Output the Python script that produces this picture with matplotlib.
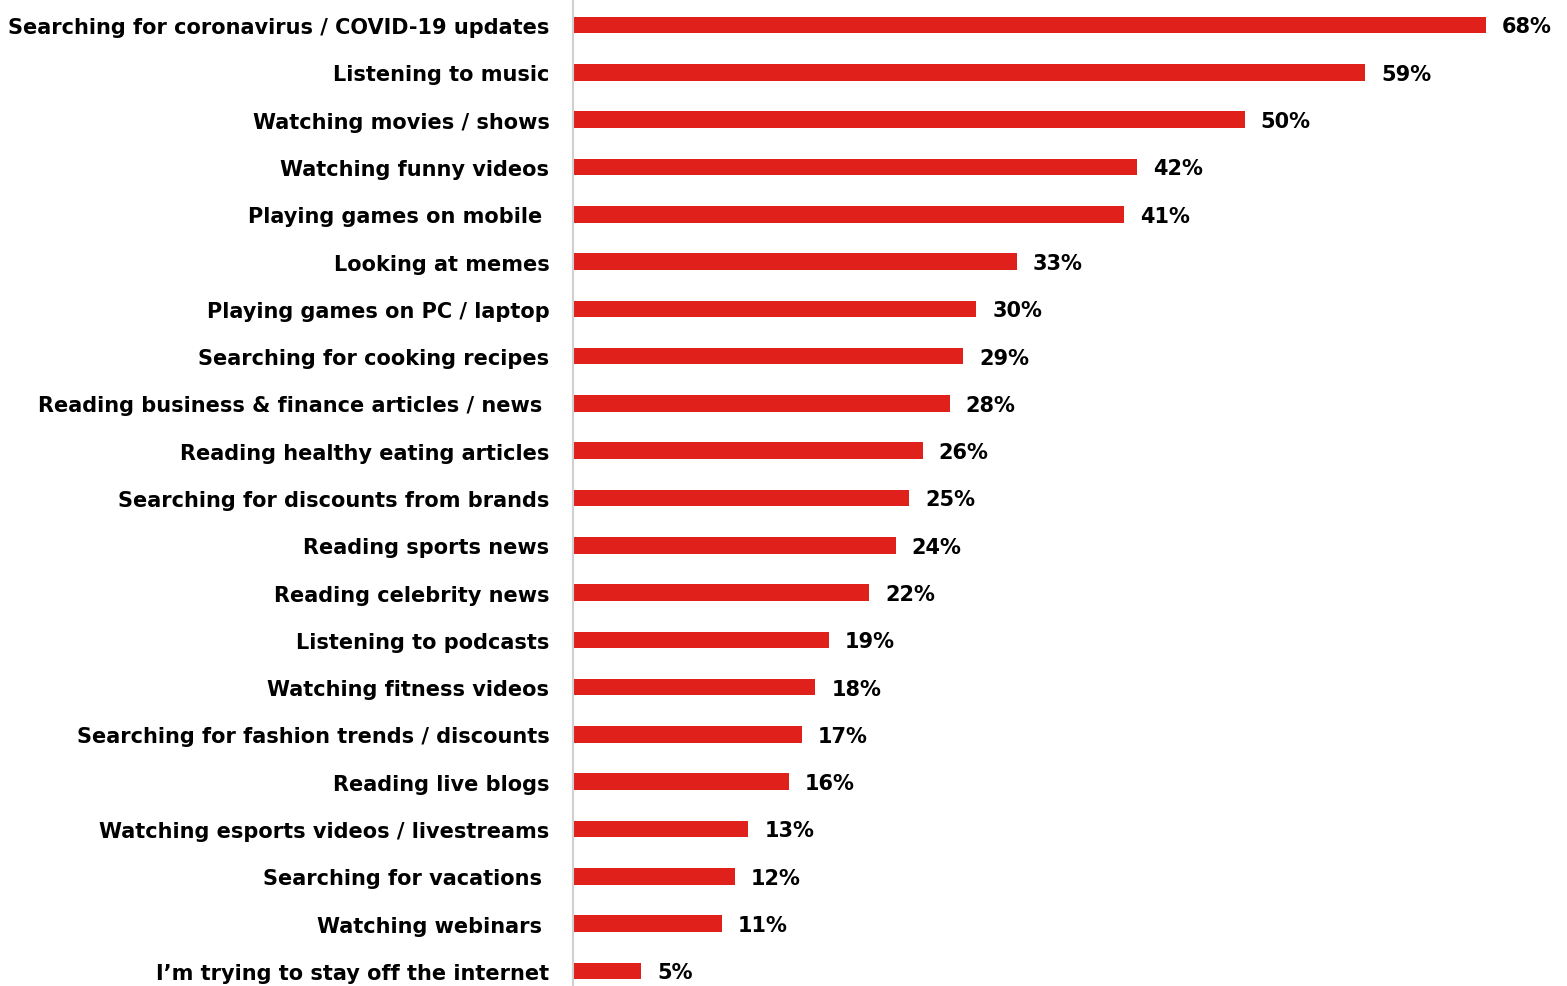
import matplotlib
matplotlib.use("Agg")
import matplotlib.pyplot as plt

activities = [
    "Searching for coronavirus / COVID-19 updates",
    "Listening to music",
    "Watching movies / shows",
    "Watching funny videos",
    "Playing games on mobile ",
    "Looking at memes",
    "Playing games on PC / laptop",
    "Searching for cooking recipes",
    "Reading business & finance articles / news ",
    "Reading healthy eating articles",
    "Searching for discounts from brands",
    "Reading sports news",
    "Reading celebrity news",
    "Listening to podcasts",
    "Watching fitness videos",
    "Searching for fashion trends / discounts",
    "Reading live blogs",
    "Watching esports videos / livestreams",
    "Searching for vacations ",
    "Watching webinars ",
    "I\u2019m trying to stay off the internet",
]
shares = [68, 59, 50, 42, 41, 33, 30, 29, 28, 26, 25, 24, 22, 19, 18, 17, 16, 13, 12, 11, 5]

BAR_COLOR = "#E0201B"
FONT = ["DejaVu Sans"]
LABEL_SIZE = 15

W, H = 1567, 987
fig = plt.figure(figsize=(W / 100, H / 100), dpi=100)
left = 573 / W
top_px, bot_px = 2.4, 995.6
ax = fig.add_axes([left, 1 - bot_px / H, 1 - left, (bot_px - top_px) / H])

y = list(range(len(activities)))
ax.barh(y, shares, height=0.35, color=BAR_COLOR, edgecolor="none")
ax.set_ylim(len(activities) - 0.5, -0.5)
px_per_unit = (1486 - 574) / 68
ax.set_xlim(-1 / px_per_unit, (W - 574) / px_per_unit)

for yi, v in zip(y, shares):
    ax.annotate(f"{v}%", (v, yi), xytext=(11.5, -1), textcoords="offset points",
                va="center", ha="left", fontsize=LABEL_SIZE, fontweight="bold",
                family=FONT, color="black")

for s in ["top", "right", "bottom"]:
    ax.spines[s].set_visible(False)
ax.spines["left"].set_color("#D0D0D0")
ax.spines["left"].set_linewidth(1.5)

ax.set_xticks([])
ax.set_yticks(y)
ax.set_yticklabels(activities)
ax.tick_params(axis="y", length=0, pad=17)
for lbl in ax.get_yticklabels():
    lbl.set_fontsize(LABEL_SIZE)
    lbl.set_fontweight("bold")
    lbl.set_family(FONT)
    lbl.set_color("black")

fig.savefig("out.png", dpi=100)
